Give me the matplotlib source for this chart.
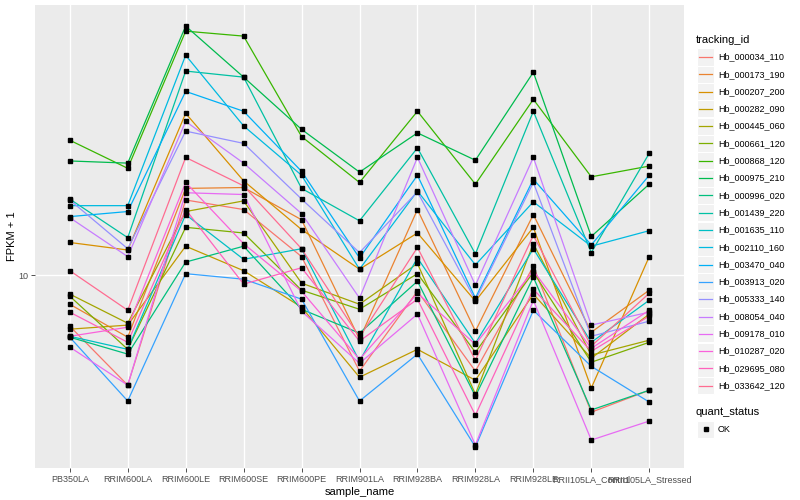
import numpy as np
import matplotlib.pyplot as plt
from matplotlib.lines import Line2D
from matplotlib.patches import Rectangle

plt.rcParams['font.family'] = ['Liberation Sans', 'DejaVu Sans']

# ---------------------------------------------------------------------
# data: FPKM + 1 per gene across samples
# ---------------------------------------------------------------------
samples = ['PB350LA', 'RRIM600LA', 'RRIM600LE', 'RRIM600SE', 'RRIM600PE',
           'RRIM901LA', 'RRIM928BA', 'RRIM928LA', 'RRIM928LE',
           'RRII105LA_Control', 'RRII105LA_Stressed']

genes = ['Hb_000034_110', 'Hb_000173_190', 'Hb_000207_200', 'Hb_000282_090',
         'Hb_000445_060', 'Hb_000661_120', 'Hb_000868_120', 'Hb_000975_210',
         'Hb_000996_020', 'Hb_001439_220', 'Hb_001635_110', 'Hb_002110_160',
         'Hb_003470_040', 'Hb_003913_020', 'Hb_005333_140', 'Hb_008054_040',
         'Hb_009178_010', 'Hb_010287_020', 'Hb_029695_080', 'Hb_033642_120']

# ggplot default hue palette for 20 levels
colors = ['#F8766D', '#EA8331', '#D89000', '#C09B00', '#A3A500', '#7CAE00',
          '#39B600', '#00BB4E', '#00BF7D', '#00C1A3', '#00BFC4', '#00BAE0',
          '#00B0F6', '#35A2FF', '#9590FF', '#C77CFF', '#E76BF3', '#FA62DB',
          '#FF62BC', '#FF6C91']

hb_000034_110 = [7.15, 4.85, 16.4, 15.4, 11.3, 5.32, 9.00, 5.32, 10.6, 4.06, 4.69]
hb_000173_190 = [8.26, 6.65, 17.7, 17.8, 14.4, 6.56, 15.4, 6.92, 14.9, 6.87, 9.06]
hb_000207_200 = [12.4, 11.8, 29.0, 18.6, 13.5, 10.4, 13.2, 8.43, 13.7, 4.76, 11.3]
hb_000282_090 = [7.01, 7.20, 12.1, 10.3, 8.10, 5.11, 6.14, 5.01, 8.83, 5.79, 7.74]
hb_000445_060 = [8.83, 7.29, 15.2, 16.3, 9.49, 8.26, 10.8, 4.57, 12.3, 5.91, 6.52]
hb_000661_120 = [8.71, 6.14, 13.7, 13.2, 9.06, 7.99, 10.1, 6.02, 10.2, 5.64, 6.43]
hb_000868_120 = [24.3, 20.2, 49.8, 48.2, 24.9, 18.4, 29.4, 18.2, 31.8, 19.1, 20.5]
hb_000975_210 = [21.2, 20.9, 51.5, 36.8, 26.1, 19.7, 25.5, 21.3, 38.0, 12.9, 18.2]
hb_000996_020 = [6.65, 5.95, 10.9, 12.1, 7.99, 6.83, 9.61, 4.51, 9.87, 4.12, 4.69]
hb_001439_220 = [16.5, 12.8, 38.3, 36.8, 17.7, 14.3, 23.1, 11.5, 29.4, 11.6, 22.3]
hb_001635_110 = [6.69, 6.14, 14.9, 11.1, 11.9, 5.68, 11.2, 6.39, 11.9, 6.43, 8.48]
hb_002110_160 = [15.8, 15.8, 42.5, 26.7, 19.3, 10.4, 17.4, 10.7, 16.2, 12.1, 13.4]
hb_003470_040 = [14.7, 15.2, 33.5, 29.4, 19.8, 11.2, 19.3, 8.60, 18.8, 12.2, 19.3]
hb_003913_020 = [6.65, 4.37, 10.1, 9.74, 8.54, 4.37, 5.95, 3.23, 7.94, 5.49, 4.34]
hb_005333_140 = [16.4, 11.9, 25.8, 23.8, 16.5, 11.6, 17.3, 8.48, 18.4, 6.69, 7.39]
hb_008054_040 = [14.6, 11.3, 27.5, 20.9, 15.0, 8.60, 21.7, 9.36, 21.7, 7.20, 7.84]
hb_009178_010 = [6.23, 4.85, 17.2, 17.0, 7.89, 5.60, 7.74, 3.27, 8.48, 3.38, 3.83]
hb_010287_020 = [6.69, 7.10, 18.4, 12.3, 9.00, 5.75, 8.88, 6.35, 10.3, 6.18, 7.94]
hb_029695_080 = [7.84, 6.43, 15.4, 9.43, 10.5, 6.48, 8.54, 3.98, 9.12, 6.06, 7.64]
hb_033642_120 = [10.3, 7.94, 21.7, 18.0, 11.9, 6.65, 12.0, 5.71, 13.0, 6.27, 8.88]

series = [hb_000034_110, hb_000173_190, hb_000207_200, hb_000282_090,
          hb_000445_060, hb_000661_120, hb_000868_120, hb_000975_210,
          hb_000996_020, hb_001439_220, hb_001635_110, hb_002110_160,
          hb_003470_040, hb_003913_020, hb_005333_140, hb_008054_040,
          hb_009178_010, hb_010287_020, hb_029695_080, hb_033642_120]

# ---------------------------------------------------------------------
# figure, ggplot-like panel
# ---------------------------------------------------------------------
W, H = 800, 500
fig = plt.figure(figsize=(8, 5), dpi=100)

def fx(x):
    return x / W

def fy(y):
    return 1 - y / H

ax = fig.add_axes([fx(35), fy(468), fx(684 - 35), (468 - 5) / H])
ax.set_facecolor('#EBEBEB')
for s in ax.spines.values():
    s.set_visible(False)

x = np.arange(len(samples))
for vals, c in zip(series, colors):
    ax.plot(x, vals, color=c, lw=0.9, zorder=2)
for vals in series:
    ax.plot(x, vals, ls='none', marker='s', ms=2.3, color='black', zorder=3)

ax.set_yscale('log')
allv = np.log10(np.concatenate([np.array(v) for v in series]))
lo, hi = allv.min(), allv.max()
pad = 0.05 * (hi - lo)
ax.set_ylim(10 ** (lo - pad), 10 ** (hi + pad))
ax.set_yticks([10])
ax.set_yticklabels(['10'])
ax.yaxis.set_minor_locator(plt.NullLocator())

ax.set_xlim(-0.6, len(samples) - 0.4)
ax.set_xticks(x)
ax.set_xticklabels(samples)

ax.grid(True, which='major', color='white', lw=1.0)
ax.set_axisbelow(True)
ax.tick_params(length=3, width=0.6, color='#333333', labelcolor='#4D4D4D',
               labelsize=6.5, pad=2)
ax.set_xlabel('sample_name', fontsize=8, labelpad=2)
ax.set_ylabel('FPKM + 1', fontsize=8, labelpad=1)

# ---------------------------------------------------------------------
# legends (drawn by hand to get the ggplot key look)
# ---------------------------------------------------------------------
fig.text(fx(696), fy(40), 'tracking_id', fontsize=8, va='center', ha='left')
for i, (g, c) in enumerate(zip(genes, colors)):
    yc = 57 + 17.3 * i
    fig.add_artist(Rectangle((fx(697), fy(yc + 8.5)), 17 / W, 17 / H,
                             transform=fig.transFigure, facecolor='#F2F2F2',
                             edgecolor='white', lw=0.8))
    fig.add_artist(Line2D([fx(699), fx(712)], [fy(yc), fy(yc)], color=c, lw=0.9,
                          transform=fig.transFigure))
    fig.text(fx(718), fy(yc), g, fontsize=6.5, va='center', ha='left')

fig.text(fx(696), fy(412), 'quant_status', fontsize=8, va='center', ha='left')
fig.add_artist(Rectangle((fx(697), fy(429 + 8.5)), 17 / W, 17 / H,
                         transform=fig.transFigure, facecolor='#F2F2F2',
                         edgecolor='white', lw=0.8))
fig.add_artist(Line2D([fx(705.5)], [fy(429)], ls='none', marker='s', ms=2.3,
                      color='black', transform=fig.transFigure))
fig.text(fx(718), fy(429), 'OK', fontsize=6.5, va='center', ha='left')

fig.savefig('out.png', dpi=100)
